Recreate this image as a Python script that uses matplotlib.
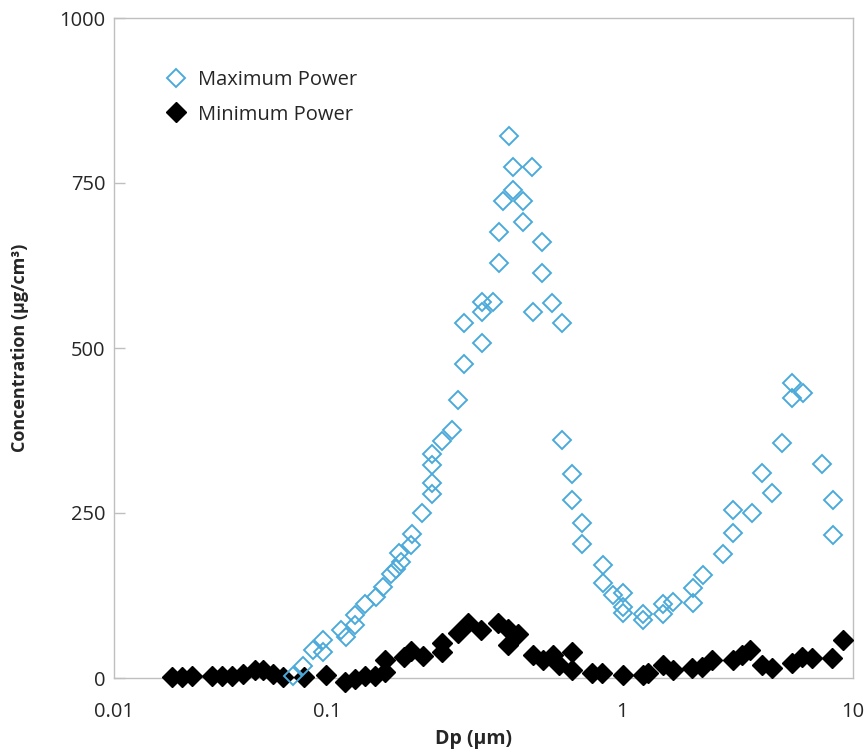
import numpy as np
import matplotlib
matplotlib.use('Agg')
import matplotlib.pyplot as plt

plt.rcParams['font.family'] = ['Open Sans', 'DejaVu Sans']

# particle diameter (um) and mass concentration (ug/cm3)
max_dp = [0.0692, 0.0772, 0.0860, 0.0958, 0.0958, 0.1116, 0.116, 0.1245, 0.1245,
          0.1346, 0.1466, 0.1548, 0.1648, 0.1714, 0.1781, 0.1754, 0.1926, 0.1941,
          0.2099, 0.227, 0.227, 0.227, 0.227, 0.2454, 0.2653, 0.278, 0.2913,
          0.2913, 0.3352, 0.3352, 0.3352, 0.3653, 0.3829, 0.3829, 0.395, 0.427,
          0.4139, 0.427, 0.4618, 0.4618, 0.4953, 0.4992, 0.5355, 0.5355, 0.579,
          0.626, 0.626, 0.6768, 0.6768, 0.7318, 0.7318, 0.8622, 0.8622, 0.9322,
          1.010, 1.010, 1.010, 1.233, 1.233, 1.505, 1.505, 1.663, 2.029, 2.029,
          2.242, 2.737, 3.024, 3.024, 3.654, 4.037, 4.461, 4.928, 5.445, 5.445,
          6.074, 7.339, 8.195, 8.195]
max_conc = [3, 18, 42, 58, 39, 73, 62, 95, 80,
            112, 123, 138, 158, 165, 176, 189, 202, 218,
            250, 279, 295, 323, 339, 359, 376, 421, 476,
            538, 508, 555, 570, 570, 629, 676, 723, 739,
            821, 774, 723, 691, 774, 555, 661, 614, 568,
            538, 361, 309, 270, 235, 203, 171, 144, 126,
            129, 108, 98, 97, 88, 112, 97, 115, 136, 114,
            156, 188, 220, 255, 250, 311, 280, 356, 447, 424,
            432, 324, 270, 217]

min_dp = [0.01872, 0.02085, 0.02324, 0.02884, 0.03214, 0.03581, 0.04033, 0.04592,
          0.05006, 0.05578, 0.06215, 0.07798, 0.0989, 0.1151, 0.1245, 0.1346,
          0.1455, 0.1573, 0.1573, 0.1824, 0.1926, 0.2116, 0.2454, 0.2454, 0.278,
          0.3006, 0.3327, 0.3799, 0.4108, 0.4108, 0.4442, 0.4992, 0.5397, 0.5836,
          0.6115, 0.6768, 0.6768, 0.791, 0.8553, 1.010, 1.233, 1.296, 1.505, 1.663,
          2.009, 2.220, 2.453, 3.024, 3.308, 3.583, 4.037, 4.461, 5.445, 6.014,
          6.645, 8.111, 9.052]
min_conc = [1, 1, 3, 3, 3, 3, 6, 12,
            12, 6, 2, 2, 5, -6, -2, 3,
            3, 27, 9, 32, 41, 33, 53, 39, 68,
            83, 73, 83, 74, 50, 67, 35, 27, 35,
            20, 39, 12, 8, 8, 5, 5, 8, 20, 12,
            15, 17, 27, 27, 35, 42, 20, 15, 23, 32,
            30, 30, 58]

xticks = [0.01, 0.1, 1, 10]
xtick_labels = ['0.01', '0.1', '1', '10']
yticks = [0, 250, 500, 750, 1000]

# log axis, but the decade labels in the original are not evenly spaced,
# so each decade gets its own share of the width
decades = [-2, -1, 0, 1]
frac = [0, 0.2882, 0.6874, 1]

def fwd(x):
    return np.interp(np.log10(np.clip(x, 1e-6, None)), decades, frac)

def inv(v):
    return 10 ** np.interp(v, frac, decades)

txt = '#262626'
grey = '#BFBFBF'

fig = plt.figure(figsize=(8.65, 7.53), dpi=100)
ax = fig.add_axes([114/865, 1-678/753, 739/865, 660/753])

ax.plot(min_dp, min_conc, ls='none', marker='D', ms=10, color='black',
        clip_on=False, zorder=3, label='Minimum Power')
ax.plot(max_dp, max_conc, ls='none', marker='D', ms=9.6, mfc='none',
        mec='#4BAADA', mew=1.4, clip_on=False, zorder=4, label='Maximum Power')

ax.set_xscale('function', functions=(fwd, inv))
ax.set_xlim(0.01, 10)
ax.set_ylim(0, 1000)
ax.set_xticks(xticks)
ax.set_xticklabels(xtick_labels)
ax.minorticks_off()
ax.set_yticks(yticks)

for s in ax.spines.values():
    s.set_color(grey)
    s.set_linewidth(1)

ax.tick_params(axis='y', direction='in', length=8, width=1, color=grey,
               labelsize=14.5, labelcolor=txt, pad=6)
ax.tick_params(axis='x', length=0, labelsize=14.5, labelcolor=txt, pad=17)

ax.set_xlabel('Dp (µm)', fontsize=14, fontweight='bold', color=txt)
ax.xaxis.set_label_coords(0.487, -0.078)
ax.set_ylabel('Concentration (µg/cm³)', fontsize=13, fontweight='bold',
              color=txt, labelpad=22)

h, l = ax.get_legend_handles_labels()
ax.legend(h[::-1], l[::-1], loc='upper left', bbox_to_anchor=(0.046, 0.948),
          frameon=False, numpoints=1, fontsize=14.5, handlelength=1.0,
          handletextpad=0.6, labelspacing=0.7, labelcolor=txt)

fig.savefig('out.png', dpi=100)
